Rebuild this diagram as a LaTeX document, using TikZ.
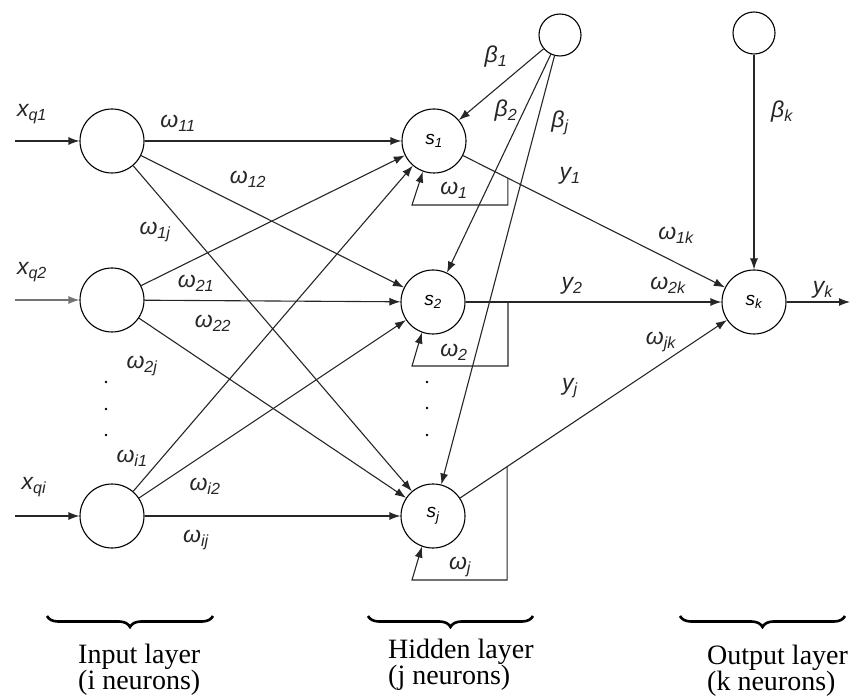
\documentclass[tikz,border=0pt]{standalone}
\usepackage{fontspec}
\setmainfont{Liberation Serif}
\newfontfamily\labfont{Liberation Sans}
\usetikzlibrary{arrows.meta,calc,decorations.pathreplacing}
\newcommand{\wlab}[2]{{\labfont\itshape #1\textsubscript{#2}}}

\begin{document}
\begin{tikzpicture}[x=1pt,y=-1pt,
    neuron/.style={circle,draw,line width=1.1pt,minimum size=64pt,inner sep=0pt,font=\fontsize{19}{21}\selectfont},
    bias/.style={circle,draw,line width=1.1pt,minimum size=42pt,inner sep=0pt},
    arr/.style={-{Latex[length=11pt,width=8pt]},line width=1.1pt,draw=black!85},
    lab/.style={font=\fontsize{23}{26}\selectfont,inner sep=0pt,text=black!85},
    dotn/.style={circle,fill,inner sep=0pt,minimum size=2.8pt},
    capt/.style={font=\fontsize{28}{26}\selectfont,align=left,anchor=west,inner sep=0pt},
    brc/.style={decorate,decoration={brace,mirror,amplitude=11pt},line width=2.6pt}]
    \useasboundingbox (0,0) rectangle (851,700);

    % input layer
    \node[neuron] (in1) at (112,141) {};
    \node[neuron] (in2) at (112,300) {};
    \node[neuron] (ini) at (112,516) {};
    \coordinate (x1) at (15,141);
    \coordinate (x2) at (15,300);
    \coordinate (xi) at (15,516);
    \draw[arr] (x1) -- (in1);
    \draw[arr,draw=black!55] (x2) -- (in2);
    \draw[arr] (xi) -- (ini);
    \foreach \k/\yy in {1/382,2/409,3/435} \node[dotn] (di\k) at (106,\yy) {};

    % hidden layer
    \node[neuron] (s1) at (434,141) {\wlab{s}{1}};
    \node[neuron] (s2) at (433,302) {\wlab{s}{2}};
    \node[neuron] (sj) at (433,516) {\wlab{s}{j}};
    \node[bias] (b1) at (560,35) {};
    \foreach \k/\yy in {1/382,2/408,3/435} \node[dotn] (dh\k) at (427,\yy) {};

    % output layer
    \node[neuron] (sk) at (754,302) {\wlab{s}{k}};
    \node[bias] (bk) at (754,33) {};
    \coordinate (yout) at (850,302);

    % connections
    \foreach \i in {in1,in2,ini}
        \foreach \j in {s1,s2,sj}
            \draw[arr] (\i) -- (\j);
    \foreach \j in {s1,s2,sj}
        \draw[arr] (b1) -- (\j);
    \foreach \j in {s1,s2,sj}
        \draw[arr] (\j) -- (sk);
    \draw[arr] (bk) -- (sk);
    \draw[arr] (sk) -- (yout);

    % feedback loops
    \coordinate (t1) at ($(s1)!0.231!(sk)$);
    \coordinate (t2) at (508,302);
    \coordinate (t3) at ($(sj)!0.231!(sk)$);
    \coordinate (c1) at (412,205);
    \coordinate (c2) at (412,366);
    \coordinate (c3) at (412,580);
    \draw[arr] (t1) |- (c1) -- (s1.-110);
    \draw[arr] (t2) |- (c2) -- (s2.-110);
    \draw[arr] (t3) |- (c3) -- (sj.-110);

    % labels
    \node[lab] (lx1) at (32,114) {\wlab{x}{q1}};
    \node[lab] (lx2) at (32,272) {\wlab{x}{q2}};
    \node[lab] (lxi) at (34,487) {\wlab{x}{qi}};
    \node[lab] (w11) at (178,123) {\wlab{ω}{11}};
    \node[lab] (w12) at (248,179) {\wlab{ω}{12}};
    \node[lab] (w1j) at (155,232) {\wlab{ω}{1j}};
    \node[lab] (w21) at (196,283) {\wlab{ω}{21}};
    \node[lab] (w22) at (213,323) {\wlab{ω}{22}};
    \node[lab] (w2j) at (142,366) {\wlab{ω}{2j}};
    \node[lab] (wi1) at (132,458) {\wlab{ω}{i1}};
    \node[lab] (wi2) at (205,486) {\wlab{ω}{i2}};
    \node[lab] (wij) at (196,540) {\wlab{ω}{ij}};
    \node[lab] (be1) at (496,57) {\wlab{β}{1}};
    \node[lab] (be2) at (506,111) {\wlab{β}{2}};
    \node[lab] (bej) at (560,123) {\wlab{β}{j}};
    \node[lab] (w1) at (454,190) {\wlab{ω}{1}};
    \node[lab] (w2) at (454,352) {\wlab{ω}{2}};
    \node[lab] (wj) at (460,567) {\wlab{ω}{j}};
    \node[lab] (y1) at (570,176) {\wlab{y}{1}};
    \node[lab] (y2) at (572,286) {\wlab{y}{2}};
    \node[lab] (yj) at (570,388) {\wlab{y}{j}};
    \node[lab] (w1k) at (676,235) {\wlab{ω}{1k}};
    \node[lab] (w2k) at (668,285) {\wlab{ω}{2k}};
    \node[lab] (wjk) at (661,342) {\wlab{ω}{jk}};
    \node[lab] (bek) at (782,112) {\wlab{β}{k}};
    \node[lab] (yk) at (823,290) {\wlab{y}{k}};

    % layer captions
    \draw[brc] (47,616) -- (213,616);
    \draw[brc] (368,616) -- (533,616);
    \draw[brc] (680,616) -- (845,616);
    \node[capt] (cin) at (78,670) {Input layer\\(i neurons)};
    \node[capt] (chid) at (388,665) {Hidden layer\\(j neurons)};
    \node[capt] (cout) at (707,671) {Output layer\\(k neurons)};
\end{tikzpicture}
\end{document}
